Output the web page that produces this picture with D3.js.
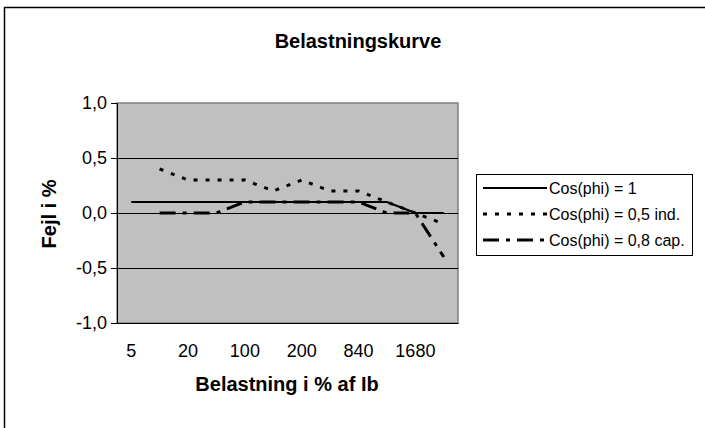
<!DOCTYPE html>
<html>
<head>
<meta charset="utf-8">
<script src="https://cdn.jsdelivr.net/npm/d3@7"></script>
<style>
html,body{margin:0;padding:0;background:#fff;}
text{font-family:"Liberation Sans",Arial,sans-serif;fill:#000;}
</style>
</head>
<body>
<svg id="chart" width="705" height="428"></svg>
<script>
// ---- data ----
const categories = ["5","10","20","50","100","120","200","400","840","1200","1680","2000"];
const shownLabels = ["5","20","100","200","840","1680"];
const seriesNames = ["Cos(phi) = 1","Cos(phi) = 0,5 ind.","Cos(phi) = 0,8 cap."];
const cosPhi1 =     [0.1,0.1,0.1,0.1,0.1,0.1,0.1,0.1,0.1,0.1,0.0,0.0];
const cosPhi05ind = [null,0.4,0.3,0.3,0.3,0.2,0.3,0.2,0.2,0.1,0.0,-0.1];
const cosPhi08cap = [null,0.0,0.0,0.0,0.1,0.1,0.1,0.1,0.1,0.0,0.0,-0.4];
const yTicks = [-1,-0.5,0,0.5,1];
const title = "Belastningskurve";
const xTitle = "Belastning i % af Ib";
const yTitle = "Fejl i %";

const svg = d3.select("#chart");
const L = 117, R = 458, T = 103, B = 323;

// outer border
svg.append("rect").attr("x",4.5).attr("y",7.5).attr("width",740).attr("height",460)
  .attr("fill","none").attr("stroke","#000").attr("stroke-width",1.5);

const x = d3.scaleBand().domain(categories).range([L,R]).padding(0);
const y = d3.scaleLinear().domain([-1,1]).range([B,T]);
const cx = c => x(c) + x.bandwidth()/2;

// plot area
svg.append("rect").attr("x",L).attr("y",T).attr("width",R-L).attr("height",B-T)
  .attr("fill","#c0c0c0").attr("stroke","#808080").attr("stroke-width",1.5);

// gridlines
svg.append("g").selectAll("line").data(yTicks.filter(v=>v>-1 && v<1)).join("line")
  .attr("x1",L).attr("x2",R).attr("y1",d=>Math.round(y(d))+0.5).attr("y2",d=>Math.round(y(d))+0.5)
  .attr("stroke","#000").attr("stroke-width",1);

// y axis
const fmt = d => d3.format(".1f")(d).replace(".",",").replace("−","-");
const yAxis = d3.axisLeft(y).tickValues(yTicks).tickSize(6).tickPadding(4).tickFormat(fmt);
const gy = svg.append("g").attr("transform",`translate(${L},0)`).call(yAxis);
gy.selectAll("text").style("font-size","18px").attr("font-family","Liberation Sans, Arial, sans-serif");
gy.selectAll("line,path").attr("stroke","#000");

// x axis
const xAxis = d3.axisBottom(x).tickSize(0).tickPadding(21)
  .tickFormat(d => shownLabels.includes(d) ? d : "");
const gx = svg.append("g").attr("transform",`translate(0,${B})`).call(xAxis);
gx.selectAll("text").style("font-size","18px").attr("font-family","Liberation Sans, Arial, sans-serif");
gx.select("path").attr("stroke","#000");

// series
const styles = [
  {data: cosPhi1, dash: null, w: 2.2},
  {data: cosPhi05ind, dash: "4,8", w: 3},
  {data: cosPhi08cap, dash: "16,7,4,7", w: 3}
];
const line = d3.line().defined(d=>d.v!==null).x(d=>cx(d.c)).y(d=>y(d.v));
styles.forEach(s=>{
  const pts = categories.map((c,i)=>({c, v:s.data[i]}));
  svg.append("path").datum(pts).attr("d",line).attr("fill","none")
    .attr("stroke","#000").attr("stroke-width",s.w)
    .attr("stroke-dasharray",s.dash).attr("stroke-linecap","butt");
});

// titles
svg.append("text").attr("x",358).attr("y",48).attr("text-anchor","middle")
  .style("font-size","20px").style("font-weight","bold").text(title);
svg.append("text").attr("x",287).attr("y",391).attr("text-anchor","middle")
  .style("font-size","20px").style("font-weight","bold").text(xTitle);
svg.append("text").attr("transform","translate(56,214) rotate(-90)").attr("text-anchor","middle")
  .style("font-size","20px").style("font-weight","bold").text(yTitle);

// legend
const lg = svg.append("g");
lg.append("rect").attr("x",476.5).attr("y",174.5).attr("width",216).attr("height",81)
  .attr("fill","#fff").attr("stroke","#000").attr("stroke-width",1);
const rowY = [188,214,240];
styles.forEach((s,i)=>{
  lg.append("line").attr("x1",483).attr("x2",547).attr("y1",rowY[i]).attr("y2",rowY[i])
    .attr("stroke","#000").attr("stroke-width",s.w).attr("stroke-dasharray",s.dash);
  lg.append("text").attr("x",549).attr("y",rowY[i]).attr("dy","0.35em")
    .style("font-size","16px").text(seriesNames[i]);
});
</script>
</body>
</html>
